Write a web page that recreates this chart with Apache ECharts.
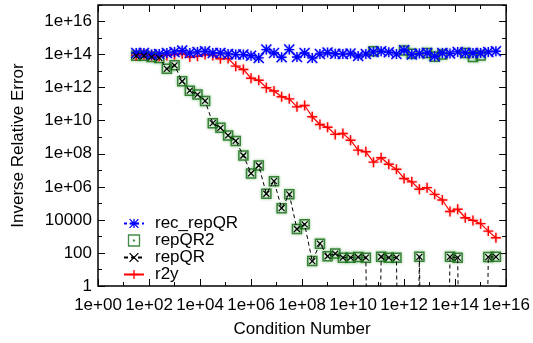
<!DOCTYPE html>
<html>
<head>
<meta charset="utf-8">
<script src="https://cdn.jsdelivr.net/npm/echarts@6/dist/echarts.min.js"></script>
<style>
  html, body { margin: 0; padding: 0; background: #fff; }
  #chart { width: 533px; height: 343px; }
</style>
</head>
<body>
<div id="chart"></div>
<script>
// x: condition numbers (~0.3 decade apart)
const condNumbers = [3.16e1, 6.31e1, 1.26e2, 2.51e2, 5.01e2, 1.0e3, 2.0e3, 3.98e3, 7.94e3, 1.58e4,
  3.16e4, 6.31e4, 1.26e5, 2.51e5, 5.01e5, 1.0e6, 2.0e6, 3.98e6, 7.94e6, 1.58e7,
  3.16e7, 6.31e7, 1.26e8, 2.51e8, 5.01e8, 1.0e9, 2.0e9, 3.98e9, 7.94e9, 1.58e10,
  3.16e10, 6.31e10, 1.26e11, 2.51e11, 5.01e11, 1.0e12, 2.0e12, 3.98e12, 7.94e12, 1.58e13,
  3.16e13, 6.31e13, 1.26e14, 2.51e14, 5.01e14, 1.0e15, 2.0e15, 3.98e15];

// inverse relative error per method
const recRepQR = [1.26e14, 1.26e14, 1.0e14, 1.1e14, 1.26e14, 1.45e14, 1.74e14, 1.26e14, 1.45e14, 1.58e14,
  1.26e14, 1.26e14, 1.1e14, 1.0e14, 1.0e14, 8.5e13, 6.3e13, 2.0e14, 1.26e14, 6.9e13,
  2.0e14, 7.1e13, 1.26e14, 6.3e13, 1.07e14, 1.32e14, 1.12e14, 1.07e14, 1.17e14, 8.3e13,
  1.07e14, 1.45e14, 1.58e14, 1.38e14, 1.1e14, 1.82e14, 1.0e14, 1.15e14, 1.26e14, 7.9e13,
  1.26e14, 1.15e14, 1.45e14, 1.26e14, 1.26e14, 1.26e14, 1.45e14, 1.58e14];

const repQR2 = [8.5e13, 8.5e13, 7.2e13, 6.3e13, 1.38e13, 2.24e13, 2.45e12, 6.6e11, 3.8e11, 1.58e11,
  7.1e9, 3.7e9, 1.29e9, 6.0e8, 7.9e7, 6.5e6, 1.95e7, 3.8e5, 2.2e6, 5.1e4,
  3.5e5, 2.8e3, 5.4e3, 32, 363, 63, 91, 52, 52, 56,
  52, 1.58e14, 59, 52, 52, 1.74e14, 1.12e14, 58, 1.26e14, 7.4e13,
  1.0e14, 58, 52, 1.26e14, 7.1e13, 8.9e13, 56, 58];

// points far below the axis (1e-30) fall outside the plot
const repQR = [8.5e13, 8.5e13, 7.2e13, 6.3e13, 1.38e13, 2.24e13, 2.45e12, 6.6e11, 3.8e11, 1.58e11,
  7.1e9, 3.7e9, 1.29e9, 6.0e8, 7.9e7, 6.5e6, 1.95e7, 3.8e5, 2.2e6, 5.1e4,
  3.5e5, 2.8e3, 5.4e3, 32, 363, 63, 91, 52, 52, 56,
  52, 1e-30, 59, 52, 52, 1e-30, 1e-30, 58, 1e-30, 1e-30,
  1e-30, 58, 52, 1e-30, 1e-30, 1e-30, 56, 58];

const r2y = [8.9e13, 1.0e14, 8.9e13, 7.9e13, 8.9e13, 1.0e14, 1.12e14, 7.1e13, 7.9e13, 1.0e14,
  8.9e13, 5.6e13, 5.8e13, 2.0e13, 1.26e13, 3.7e12, 2.8e12, 1.0e12, 6.3e11, 2.8e11,
  2.1e11, 6.9e10, 8.3e10, 1.74e10, 5.9e9, 4.0e9, 1.48e9, 1.7e9, 6.6e8, 1.66e8,
  1.32e8, 3.1e7, 5.8e7, 2.3e7, 1.15e7, 3.2e6, 2.0e6, 7.1e5, 8.9e5, 3.5e5,
  1.6e5, 3.2e4, 4.4e4, 1.35e4, 9.3e3, 5.9e3, 2.1e3, 830];

// ticks and labels
const xMajorTicks = [1, 1e2, 1e4, 1e6, 1e8, 1e10, 1e12, 1e14, 1e16];
const xTickLabels = ['1e+00', '1e+02', '1e+04', '1e+06', '1e+08', '1e+10', '1e+12', '1e+14', '1e+16'];
const xMinorTicks = [1, 1e1, 1e2, 1e3, 1e4, 1e5, 1e6, 1e7, 1e8, 1e9, 1e10, 1e11, 1e12, 1e13, 1e14, 1e15, 1e16];
const yMajorTicks = [1, 1e2, 1e4, 1e6, 1e8, 1e10, 1e12, 1e14, 1e16];
const yTickLabels = ['1', '100', '10000', '1e+06', '1e+08', '1e+10', '1e+12', '1e+14', '1e+16'];
const yMinorTicks = [1, 1e1, 1e2, 1e3, 1e4, 1e5, 1e6, 1e7, 1e8, 1e9, 1e10, 1e11, 1e12, 1e13, 1e14, 1e15, 1e16, 1e17];

const FONT = 'Liberation Sans, Arial, sans-serif';
const FS = 17;
const STAR = 'path://M1 0L1 2M0 1L2 1M0 0L2 2M0 2L2 0';
const PLUS = 'path://M1 0L1 2M0 1L2 1';
const CROSS = 'path://M0 0L2 2M0 2L2 0';
const BOX = 'path://M0 0H2V2H0ZM0.92 0.92H1.08V1.08H0.92Z';

function labelFor(ticks, labels) {
  return function (v) {
    const i = ticks.findIndex(t => Math.abs(Math.log10(v / t)) < 1e-6);
    return i < 0 ? '' : labels[i];
  };
}

// one axis per tick set and side, so major and minor ticks can differ in length
function makeAxis(pos, min, max, ticks, len, withLabels) {
  const isX = pos === 'bottom' || pos === 'top';
  return {
    type: 'log',
    logBase: 10,
    position: pos,
    min: min,
    max: max,
    splitLine: { show: false },
    axisLine: { show: false },
    axisTick: { show: true, inside: true, length: len, customValues: ticks,
      lineStyle: { color: '#000', width: 1 } },
    axisLabel: withLabels ? {
      show: true,
      customValues: ticks,
      formatter: isX ? labelFor(xMajorTicks, xTickLabels) : labelFor(yMajorTicks, yTickLabels),
      fontFamily: FONT, fontSize: FS, color: '#000',
      margin: isX ? 11 : 6
    } : { show: false }
  };
}

const xAxes = [
  makeAxis('bottom', 1, 1e16, xMajorTicks, 7, true),
  makeAxis('bottom', 1, 1e16, xMinorTicks, 4, false),
  makeAxis('top', 1, 1e16, xMajorTicks, 7, false),
  makeAxis('top', 1, 1e16, xMinorTicks, 4, false)
];
Object.assign(xAxes[0], {
  name: 'Condition Number', nameLocation: 'middle', nameGap: 35,
  nameTextStyle: { fontFamily: FONT, fontSize: FS, color: '#000' }
});

const yAxes = [
  makeAxis('left', 1, 1e17, yMajorTicks, 7, true),
  makeAxis('left', 1, 1e17, yMinorTicks, 4, false),
  makeAxis('right', 1, 1e17, yMajorTicks, 7, false),
  makeAxis('right', 1, 1e17, yMinorTicks, 4, false)
];
Object.assign(yAxes[0], {
  name: 'Inverse Relative Error', nameLocation: 'middle', nameGap: 71,
  nameTextStyle: { fontFamily: FONT, fontSize: FS, color: '#000' }
});

const pairs = arr => condNumbers.map((c, i) => [c, arr[i]]);

const chart = echarts.init(document.getElementById('chart'), null, { renderer: 'canvas' });
chart.setOption({
  animation: false,
  backgroundColor: '#fff',
  grid: { left: 98, right: 24, top: 5, bottom: 56, show: true, borderColor: '#000', borderWidth: 1.5,
    backgroundColor: 'transparent' },
  xAxis: xAxes,
  yAxis: yAxes,
  legend: {
    orient: 'vertical', left: 118, top: 210,
    itemWidth: 20, itemHeight: 11, itemGap: 0,
    selectedMode: false,
    textStyle: { fontFamily: FONT, fontSize: FS, color: '#000', padding: [0, 0, 0, 6] },
    itemStyle: { borderWidth: 1.3 },
    data: ['rec_repQR', 'repQR2', 'repQR', 'r2y']
  },
  // r2y goes first so the stars cover it along the 1e14 plateau
  series: [
    {
      name: 'r2y', type: 'line', data: pairs(r2y),
      symbol: PLUS, symbolSize: 10, showAllSymbol: true,
      lineStyle: { color: '#ff0000', width: 1.2 },
      itemStyle: { color: '#ff0000', borderColor: '#ff0000', borderWidth: 1.4,
        shadowColor: 'rgba(255,0,0,0.45)', shadowBlur: 2 },
      emphasis: { disabled: true }
    },
    {
      name: 'rec_repQR', type: 'line', data: pairs(recRepQR),
      symbol: STAR, symbolSize: 10, showAllSymbol: true,
      lineStyle: { color: '#0000ff', width: 1, type: [3, 3] },
      itemStyle: { color: '#0000ff', borderColor: '#0000ff', borderWidth: 1.4,
        shadowColor: 'rgba(0,0,255,0.35)', shadowBlur: 2 },
      emphasis: { disabled: true }
    },
    {
      name: 'repQR2', type: 'scatter', data: pairs(repQR2),
      symbol: BOX, symbolSize: 9,
      itemStyle: { color: 'rgba(0,0,0,0)', borderColor: '#146a14', borderWidth: 1.5,
        shadowColor: 'rgba(40,150,40,0.8)', shadowBlur: 3 },
      emphasis: { disabled: true }
    },
    {
      name: 'repQR', type: 'line', data: pairs(repQR),
      symbol: CROSS, symbolSize: 6, showAllSymbol: true,
      lineStyle: { color: '#000', width: 1, type: [4, 3] },
      itemStyle: { color: '#000', borderColor: '#000', borderWidth: 1.2 },
      emphasis: { disabled: true }
    }
  ]
});
</script>
</body>
</html>
